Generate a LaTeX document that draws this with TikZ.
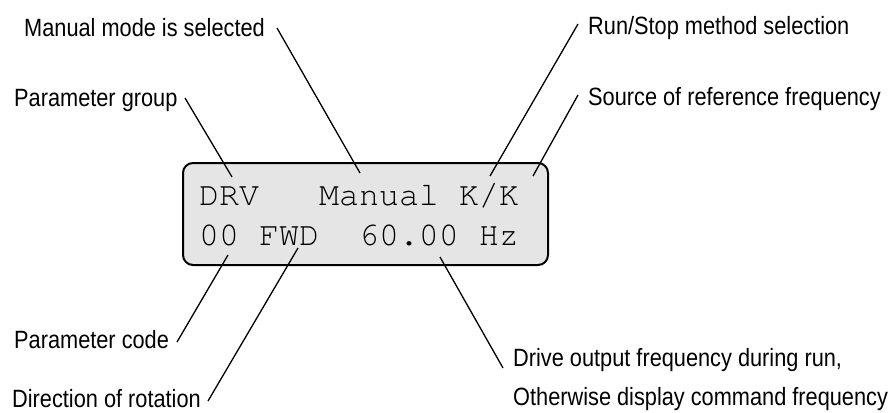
\documentclass[tikz,border=0pt]{standalone}
\usepackage{fontspec}
\setmainfont[FakeStretch=0.87]{Liberation Sans}
\newfontfamily\lcdfont{TeX Gyre Cursor}
\usepackage{tikz}

\tikzset{
	lbl/.style={anchor=base west,inner sep=0pt,font=\fontsize{25}{29}\selectfont},
	lcd/.style={anchor=base west,inner sep=0pt,font=\lcdfont\fontsize{33.3}{40}\selectfont},
	lead/.style={line width=1.3pt}
}

\begin{document}
\begin{tikzpicture}[x=1pt,y=-1pt]
	\useasboundingbox (0,0) rectangle (896,412);

	% display
	\node[draw=black,line width=2pt,fill=black!10,rounded corners=10pt,minimum width=365pt,minimum height=102pt] (disp) at (365.5,214) {};
	\node[lcd] (row1) at (199,205) {DRV\ \ \ Manual\ K/K};
	\node[lcd] (row2) at (199,245) {00\ FWD\ \ 60.00\ Hz};

	% labels
	\node[lbl] (mode) at (24,37)   {Manual mode is selected};
	\node[lbl] (grp)  at (14,106)  {Parameter group};
	\node[lbl] (run)  at (588,35)  {Run/Stop method selection};
	\node[lbl] (src)  at (588,105) {Source of reference frequency};
	\node[lbl] (code) at (14,348)  {Parameter code};
	\node[lbl] (dir)  at (12,407)  {Direction of rotation};
	\node[lbl] (out)  at (513,366) {Drive output frequency during run,};
	\node[lbl] (cmd)  at (513,405) {Otherwise display command frequency};

	% leader ends
	\coordinate (mode0) at (277,28);  \coordinate (mode1) at (360,173);
	\coordinate (grp0)  at (185,98);  \coordinate (grp1)  at (232,177);
	\coordinate (run0)  at (578,24);  \coordinate (run1)  at (490,176);
	\coordinate (src0)  at (578,95);  \coordinate (src1)  at (533,176);
	\coordinate (code0) at (177,342); \coordinate (code1) at (228,255);
	\coordinate (dir0)  at (208,401); \coordinate (dir1)  at (298,248);
	\coordinate (out0)  at (503,368); \coordinate (out1)  at (440,257);

	\path[lead] (mode0) edge (mode1);
	\path[lead] (grp0) edge (grp1);
	\path[lead] (run0) edge (run1);
	\path[lead] (src0) edge (src1);
	\path[lead] (code0) edge (code1);
	\path[lead] (dir0) edge (dir1);
	\path[lead] (out0) edge (out1);
\end{tikzpicture}
\end{document}
